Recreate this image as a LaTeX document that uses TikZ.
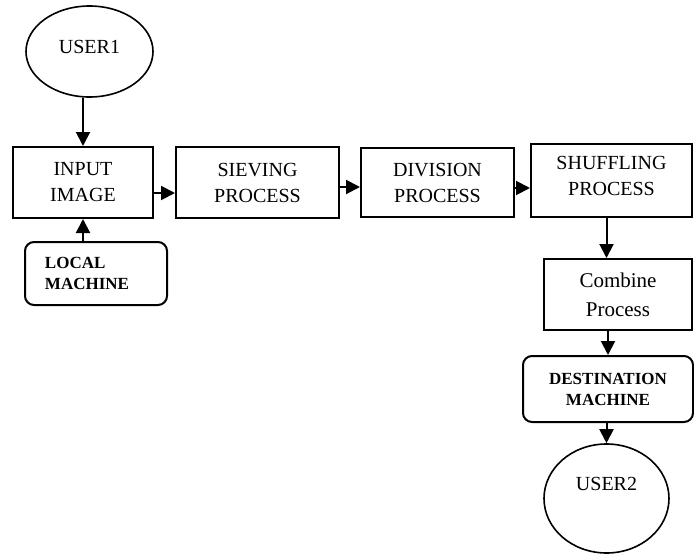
\documentclass[tikz,border=0pt]{standalone}
\usepackage{fontspec}
\setmainfont{Liberation Serif}
\usepackage{tikz}
\usetikzlibrary{shapes.geometric}
\usetikzlibrary{arrows.meta}
\tikzset{
  procbox/.style={draw,line width=2pt,rectangle,align=center,
    font=\fontsize{20}{26}\selectfont},
  machbox/.style={draw,line width=2pt,rectangle,rounded corners=9pt,
    font=\fontsize{17}{21}\selectfont\bfseries},
  userell/.style={draw,line width=1.6pt,ellipse,inner sep=0pt,
    font=\fontsize{20}{26}\selectfont},
  flow/.style={->,line width=2pt},
  >={Triangle[length=14pt,width=14pt]}
}
\begin{document}
\begin{tikzpicture}[x=1pt,y=-1pt]
    \useasboundingbox (0,0) rectangle (694,554);
    % Users
    \node[userell,minimum width=127pt,minimum height=91pt,text height=14pt,text depth=11pt] (user1) at (89.5,51.5) {USER1};
    \node[userell,minimum width=125pt,minimum height=109pt,text height=14pt,text depth=31pt] (user2) at (606.5,498.5) {USER2};
    % Processes
    \node[procbox,minimum width=140pt,minimum height=71pt] (in) at (83,182.5) {INPUT\\IMAGE};
    \node[procbox,minimum width=163pt,minimum height=71pt] (siev) at (257.5,182.5) {SIEVING\\PROCESS};
    \node[procbox,minimum width=153pt,minimum height=69pt] (div) at (437.5,182.5) {DIVISION\\PROCESS};
    \node[procbox,minimum width=161pt,minimum height=73pt,text depth=10pt] (shuf) at (611.5,180.5) {SHUFFLING\\PROCESS};
    \node[procbox,minimum width=148pt,minimum height=71pt,font=\fontsize{21}{29}\selectfont] (comb) at (618,294.5) {Combine\\Process};
    % Machines
    \node[machbox,minimum height=63pt,text width=102pt,align=left,inner xsep=20pt] (loc) at (96,273.5) {LOCAL\\MACHINE};
    \node[machbox,minimum width=170pt,minimum height=66pt,align=center] (dest) at (608,389) {DESTINATION\\MACHINE};
    % Arrows
    \draw[flow] (user1.south -| in.north) -- (in.north);
    \draw[flow] (loc.north -| in.south) -- (in.south);
    \draw[flow] ([yshift=-10.5pt]in.east) -- ([yshift=-10.5pt]siev.west);
    \draw[flow] ([yshift=-4.5pt]siev.east) -- ([yshift=-4.5pt]div.west);
    \draw[flow] ([yshift=-5.5pt]div.east) -- ([yshift=-5.5pt]div.east -| shuf.west);
    \draw[flow] ([xshift=-5pt]shuf.south) -- ([xshift=-5pt]shuf.south |- comb.north);
    \draw[flow] (comb.south -| dest.north) -- (dest.north);
    \draw[flow] (dest.south -| user2.north) -- (user2.north);
\end{tikzpicture}
\end{document}
